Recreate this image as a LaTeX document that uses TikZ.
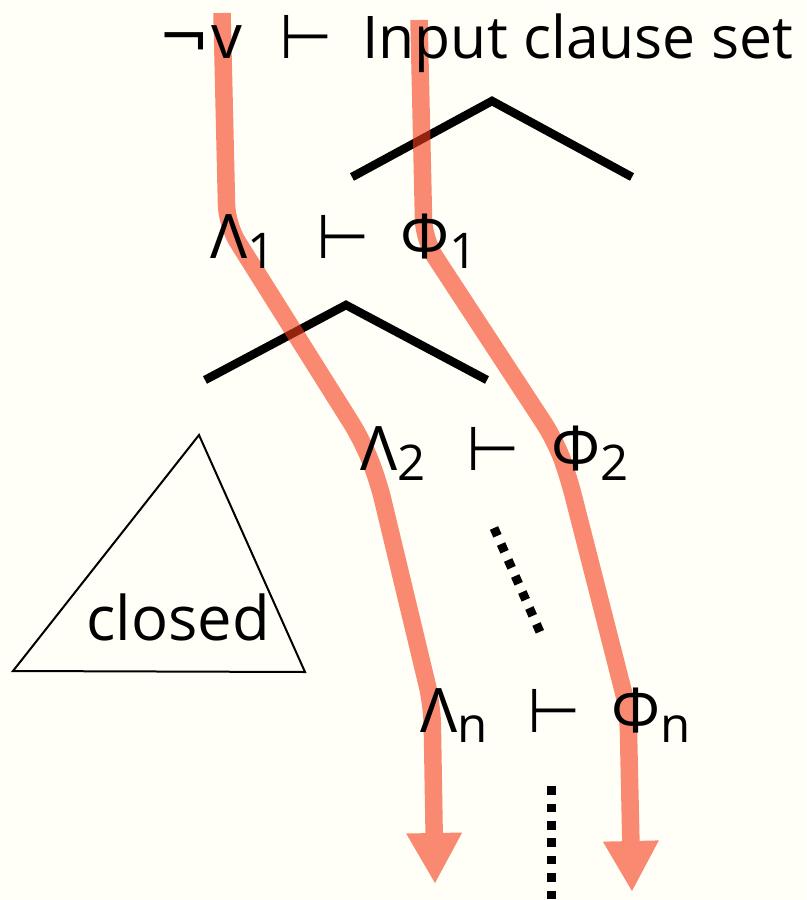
\documentclass[tikz,border=0pt]{standalone}
\usepackage{fontspec}
\setmainfont{Open Sans}
\newfontfamily\turnfont{DejaVu Sans}
\usetikzlibrary{arrows.meta}
\definecolor{paper}{RGB}{255,255,247}
\definecolor{tracered}{RGB}{245,60,25}
\newcommand{\yields}{{\turnfont ⊢}}
\newcommand{\idx}[1]{\lower6pt\hbox{\fontsize{28}{28}\selectfont #1}}

\begin{document}
\begin{tikzpicture}[
  x=0.02cm, y=-0.02cm,
  formula/.style={anchor=base west, inner sep=0pt, font=\fontsize{35}{40}\selectfont},
  roof/.style={line width=0.17cm, line join=miter},
  trace/.style={draw=tracered, line width=0.35cm, rounded corners=0.4cm, -{Triangle[width=1.04cm, length=1.02cm]}},
  dotline/.style={line width=0.18cm, dash pattern=on 0.17cm off 0.18cm},
  outline/.style={line width=0.04cm, line join=miter}
]
\useasboundingbox (0,0) rectangle (806,900);
\fill[paper] (0,0) rectangle (806,900);

%% Splitting roofs
\draw[roof] (352,177) -- (492,101) -- (632,177);
\draw[roof] (205,380) -- (346,305) -- (487,380);

%% Closed branch
\draw[outline] (13,671) -- (199,435) -- (305,672) -- cycle;
\node[formula] (closed) at (86,640) {closed};

%% Dots
\draw[dotline] (494,528) -- (540,632);
\draw[dotline] (551,786) -- (551,900);

%% Trace coordinates
\coordinate (l0) at (222,13);
\coordinate (l1) at (227,225);
\coordinate (l2) at (362,440);
\coordinate (l3) at (378,480);
\coordinate (l4) at (432,705);
\coordinate (l5) at (435,884);
\coordinate (r0) at (419,20);
\coordinate (r1) at (424,240);
\coordinate (r2) at (555,440);
\coordinate (r3) at (568,475);
\coordinate (r4) at (628,710);
\coordinate (r5) at (632,892);

%% Traces
\begin{scope}[transparency group, opacity=0.6]
\draw[trace] (l0) -- (l1) -- (l2) -- (l3) -- (l4) -- (l5);
\draw[trace] (r0) -- (r1) -- (r2) -- (r3) -- (r4) -- (r5);
\end{scope}

%% Sequents
\node[formula] (neg) at (158,58) {{\turnfont ¬}\hspace{1pt}v};
\node[formula] (turn0) at (279,58) {\yields};
\node[formula, font=\fontsize{33.5}{40}\selectfont] (input) at (362,58) {Input clause set};

\node[formula] (lam1) at (210,258) {Λ\idx{1}};
\node[formula] (turn1) at (316,258) {\yields};
\node[formula] (phi1) at (400,258) {Φ\idx{1}};

\node[formula] (lam2) at (360,470) {Λ\idx{2}};
\node[formula] (turn2) at (466,470) {\yields};
\node[formula] (phi2) at (551,470) {Φ\idx{2}};

\node[formula] (lamn) at (420,732) {Λ\idx{n}};
\node[formula] (turnn) at (527,732) {\yields};
\node[formula] (phin) at (611,732) {Φ\idx{n}};

\end{tikzpicture}
\end{document}
